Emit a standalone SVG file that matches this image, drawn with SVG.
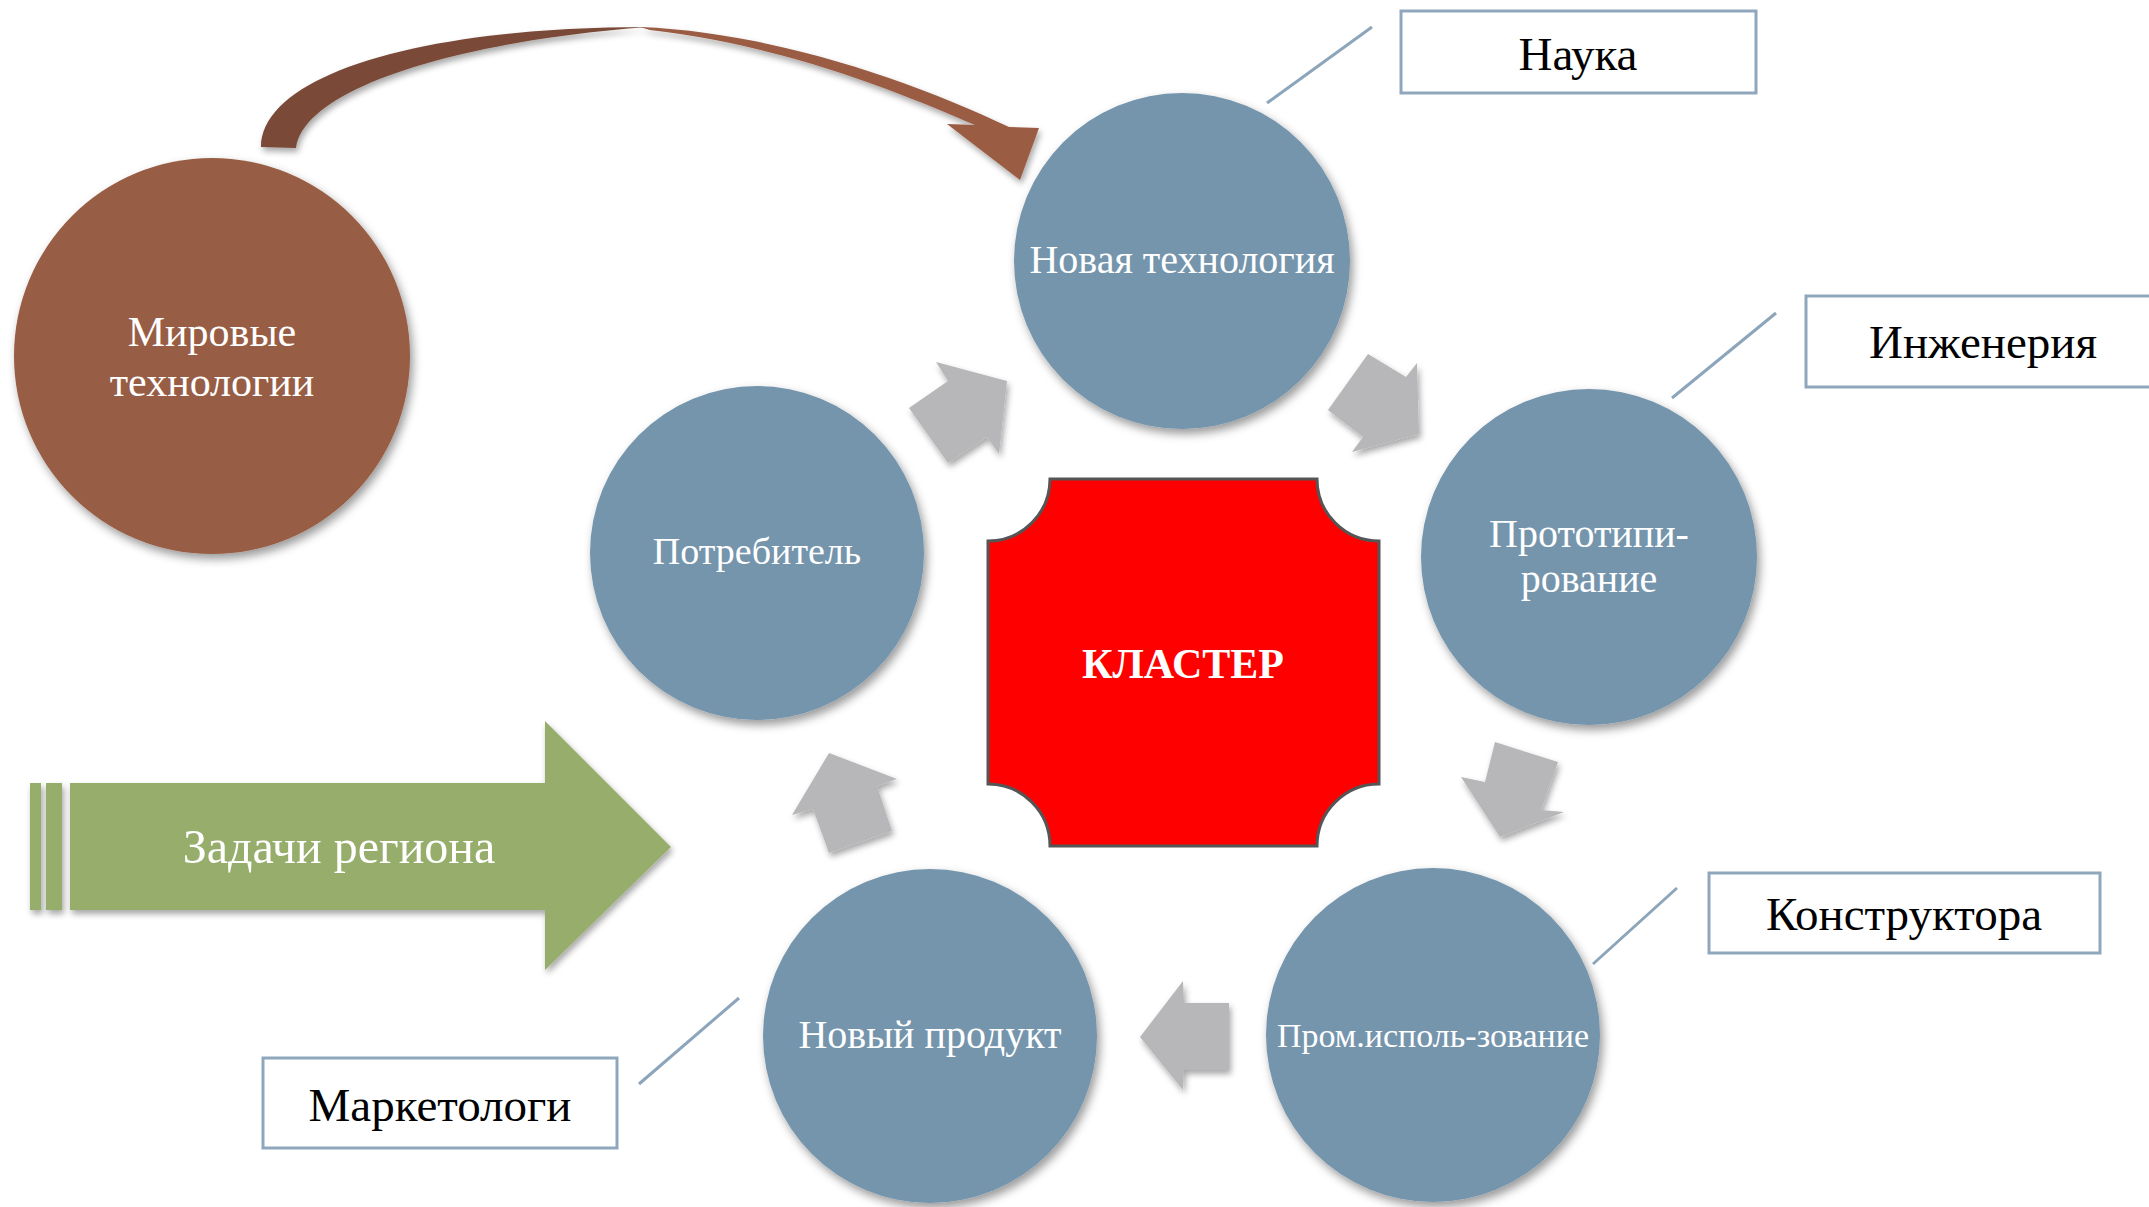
<svg xmlns="http://www.w3.org/2000/svg" width="2149" height="1207" viewBox="0 0 2149 1207">
<defs>
<filter id="sh" x="-20%" y="-20%" width="140%" height="140%">
<feDropShadow dx="3" dy="5" stdDeviation="5" flood-color="#000" flood-opacity="0.4"/>
</filter>
<filter id="sh2" x="-20%" y="-20%" width="140%" height="140%">
<feDropShadow dx="2" dy="4" stdDeviation="3" flood-color="#000" flood-opacity="0.35"/>
</filter>
<style>
.blue{fill:#7595AD;filter:url(#sh)}
.brown{fill:#985D44;filter:url(#sh)}
.grey{fill:#B7B7B9;filter:url(#sh2)}
.ct{font-family:"Liberation Serif","Times New Roman",serif;font-size:40px;fill:#fff;text-anchor:middle}
.lb{fill:#fff;stroke:#8FA7BC;stroke-width:3}
.lt{font-family:"Liberation Serif","Times New Roman",serif;font-size:47px;fill:#000;text-anchor:middle}
.ln{stroke:#8CA5BA;stroke-width:3;fill:none}
</style>
</defs>
<rect width="2149" height="1207" fill="#fff"/>

<g id="connectors">
<g id="curved-arrow" filter="url(#sh2)">
<path d="M261,147 C262,75 420,27 648,27 C470,40 305,85 296,148 Z" fill="#7A4A38"/>
<path d="M640,27 C770,32 910,80 1009,127 L1039,128 L1020,180 L947,124 L975,125 C890,88 780,45 650,30 Z" fill="#9A5B43"/>
</g>
<polygon class="grey" points="936,362 948,381 909,408 948,463 987,437 999,454 1007,381"/>
<polygon class="grey" points="1368,354 1406,377 1417,363 1419,434 1352,452 1363,437 1328,410"/>
<polygon class="grey" points="1495,742 1558,762 1541,810 1564,812 1500,837 1461,777 1485,782"/>
<polygon class="grey" points="1140,1037 1183,981 1184,1003 1229,1003 1229,1070 1184,1070 1183,1090"/>
<polygon class="grey" points="829,753 897,779 877,786 892,831 829,853 813,809 792,815"/>
<line class="ln" x1="1267" y1="103" x2="1372" y2="27"/>
<line class="ln" x1="1672" y1="398" x2="1776" y2="313"/>
<line class="ln" x1="1593" y1="964" x2="1677" y2="888"/>
<line class="ln" x1="639" y1="1084" x2="739" y2="998"/>
</g>

<g id="world-tech">
<circle class="brown" cx="212" cy="356" r="198"/>
<text class="ct" style="font-size:42px" x="212" y="346">Мировые</text>
<text class="ct" style="font-size:42px" x="212" y="396">технологии</text>
</g>

<g id="new-tech">
<circle class="blue" cx="1182" cy="261" r="168"/>
<text class="ct" x="1182" y="273">Новая технология</text>
</g>

<g id="prototyping">
<circle class="blue" cx="1589" cy="557" r="168"/>
<text class="ct" x="1589" y="547">Прототипи-</text>
<text class="ct" x="1589" y="592">рование</text>
</g>

<g id="industrial-use">
<circle class="blue" cx="1433" cy="1035" r="167"/>
<text class="ct" style="font-size:34px" x="1433" y="1047">Пром.исполь-зование</text>
</g>

<g id="new-product">
<circle class="blue" cx="930" cy="1036" r="167"/>
<text class="ct" x="930" y="1048">Новый продукт</text>
</g>

<g id="consumer">
<circle class="blue" cx="757" cy="553" r="167"/>
<text class="ct" style="font-size:38px" x="757" y="564">Потребитель</text>
</g>

<g id="cluster">
<path d="M1050,479 L1317,479 A62,62 0 0 0 1379,541 L1379,784 A62,62 0 0 0 1317,846 L1050,846 A62,62 0 0 0 988,784 L988,541 A62,62 0 0 0 1050,479 Z" fill="#FF0000" stroke="#555" stroke-width="3"/>
<text x="1183" y="678" font-family="'Liberation Serif','Times New Roman',serif" font-size="42" font-weight="bold" fill="#fff" text-anchor="middle">КЛАСТЕР</text>
</g>

<g id="region-tasks" filter="url(#sh2)">
<rect x="30" y="783" width="11" height="127" fill="#97AD6C"/>
<rect x="46" y="783" width="16" height="127" fill="#97AD6C"/>
<polygon points="70,783 545,783 545,721 671,847 545,970 545,910 70,910" fill="#97AD6C"/>
<text x="339" y="863" font-family="'Liberation Serif','Times New Roman',serif" font-size="48" fill="#fff" text-anchor="middle">Задачи региона</text>
</g>

<g id="label-science">
<rect class="lb" x="1401" y="11" width="355" height="82"/>
<text class="lt" x="1578" y="70">Наука</text>
</g>
<g id="label-engineering">
<rect class="lb" x="1806" y="296" width="360" height="91"/>
<text class="lt" x="1983" y="358">Инженерия</text>
</g>
<g id="label-designers">
<rect class="lb" x="1709" y="873" width="391" height="80"/>
<text class="lt" x="1904" y="930">Конструктора</text>
</g>
<g id="label-marketers">
<rect class="lb" x="263" y="1058" width="354" height="90"/>
<text class="lt" x="440" y="1121">Маркетологи</text>
</g>
</svg>
